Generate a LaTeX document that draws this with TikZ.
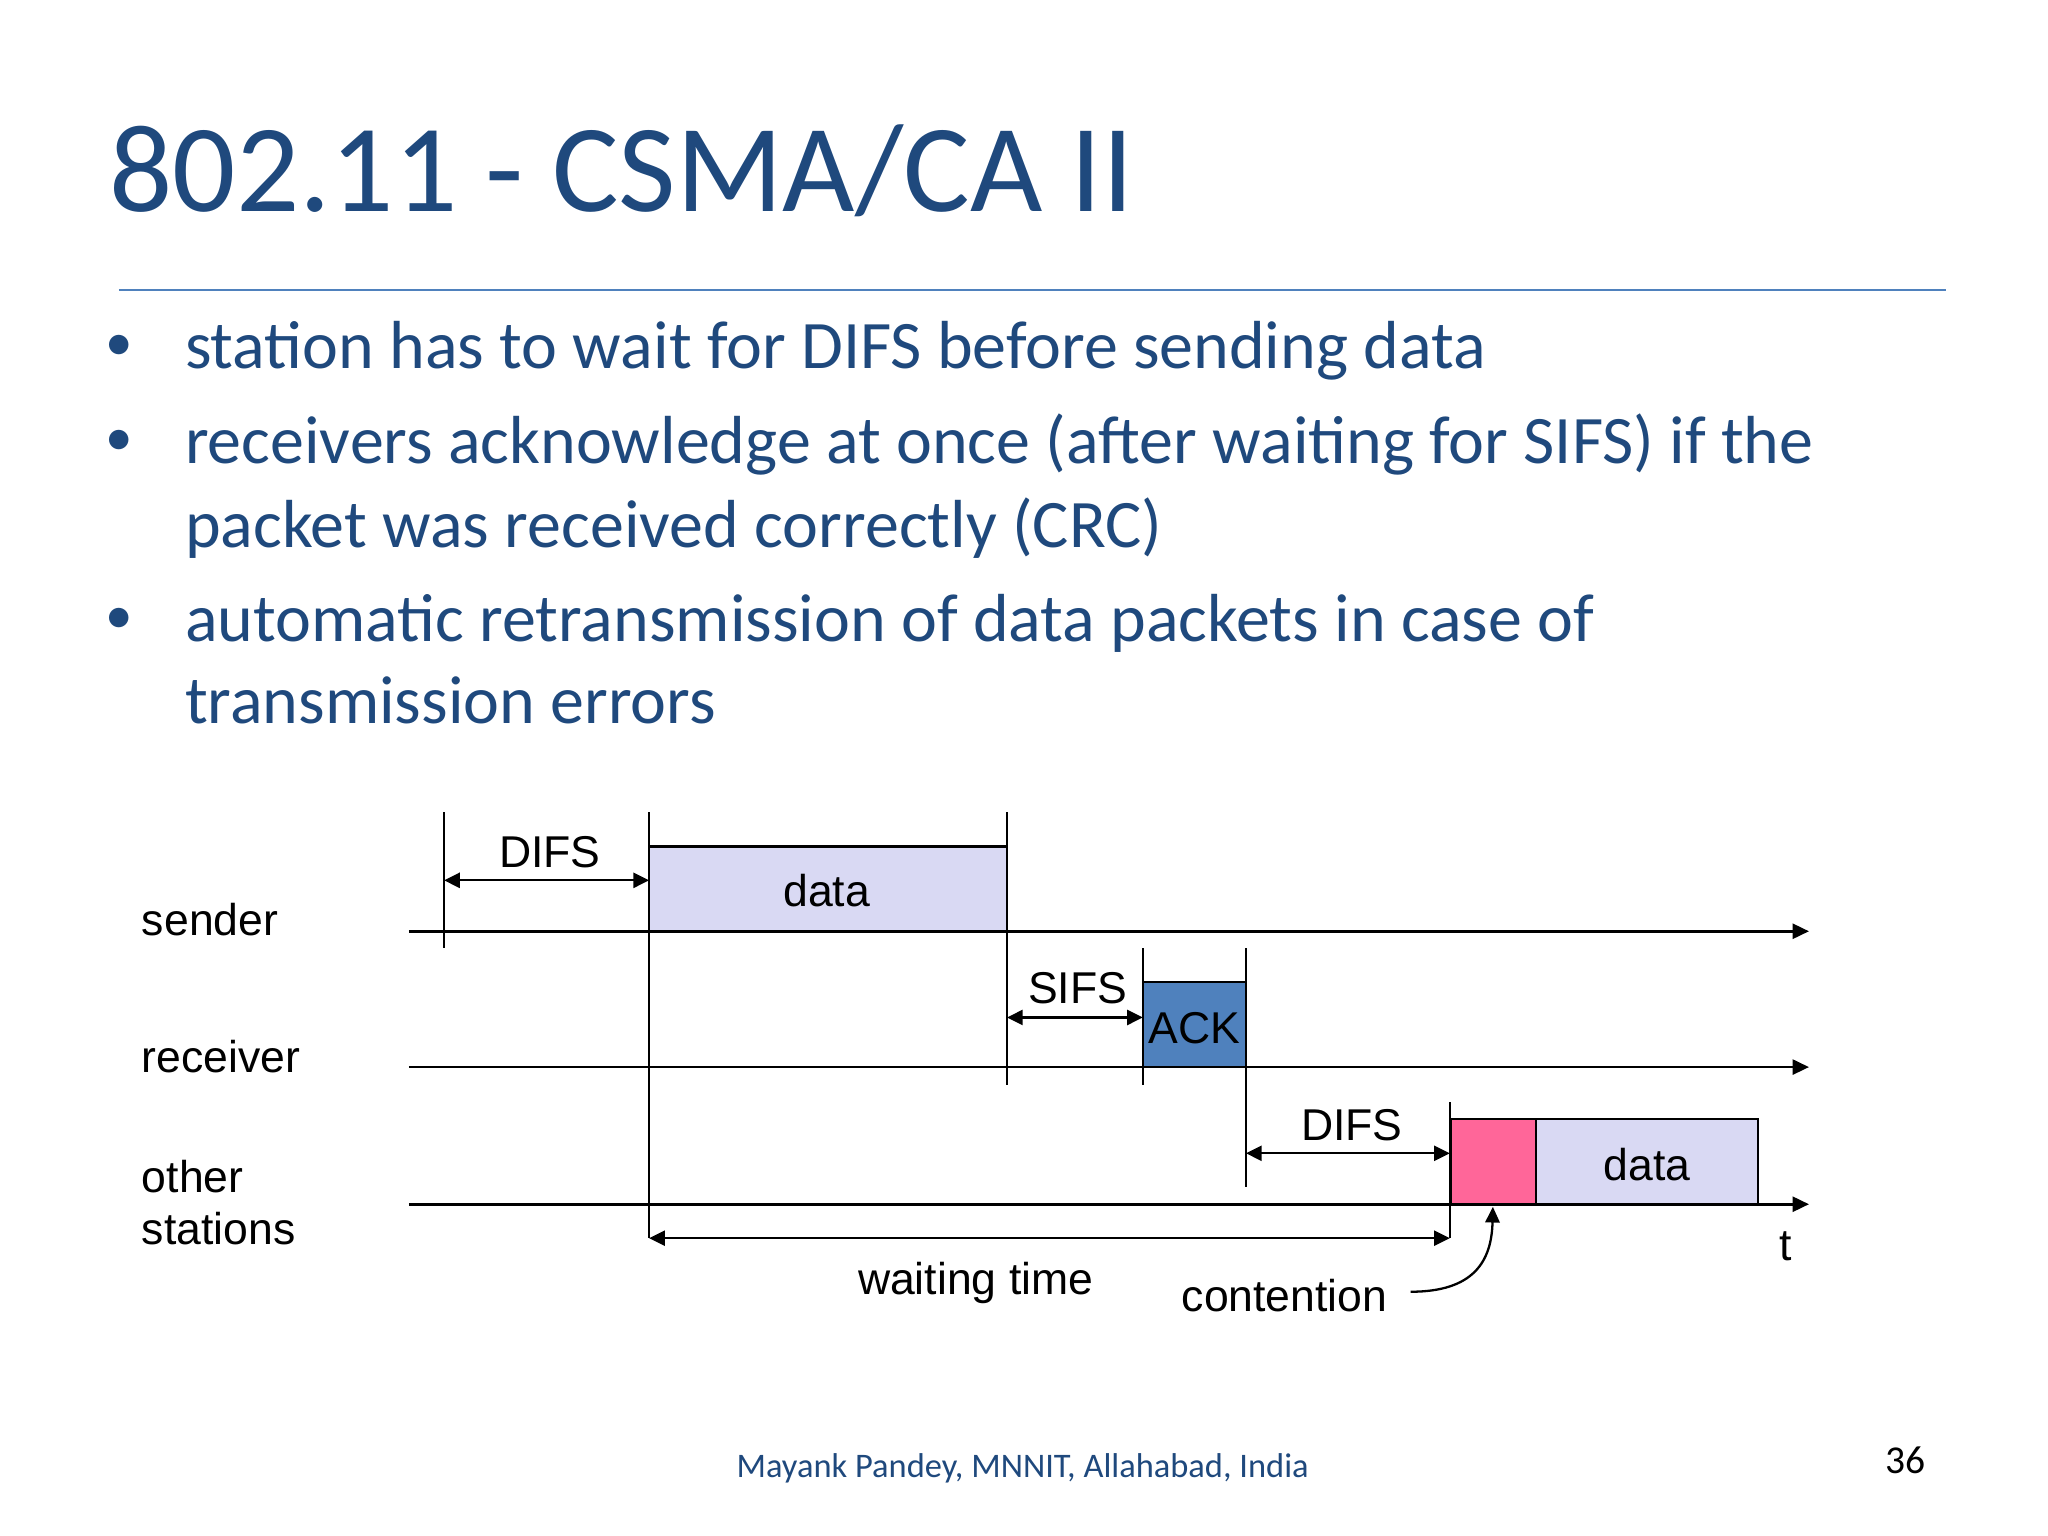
\documentclass[tikz,border=0pt]{standalone}
\usepackage{fontspec}
\setmainfont{Carlito}
\newfontfamily\diagfont{Liberation Sans}
\usetikzlibrary{arrows.meta}

\definecolor{slideblue}{RGB}{31,73,125}
\definecolor{ruleblue}{RGB}{79,129,189}
\definecolor{datafill}{RGB}{217,217,243}
\definecolor{ackfill}{RGB}{79,129,189}
\definecolor{contfill}{RGB}{255,102,153}

\tikzset{
  slidetitle/.style={anchor=base west, inner sep=0pt, text=slideblue, font=\fontsize{27.2}{33}\selectfont},
  point/.style={anchor=base west, inner sep=0pt, text=slideblue, font=\fontsize{14.8}{18}\selectfont},
  bulletdot/.style={anchor=base, inner sep=0pt, text=slideblue, font=\fontsize{12}{14}\selectfont},
  rowlabel/.style={anchor=base west, inner sep=0pt, font=\diagfont\fontsize{9.7}{11.6}\selectfont},
  lbl/.style={anchor=base, inner sep=0pt, font=\diagfont\fontsize{9.7}{11.6}\selectfont},
  axis/.style={line width=0.55pt, -{Triangle[length=1.25mm,width=1.15mm]}},
  slotline/.style={line width=0.45pt},
  span/.style={line width=0.5pt, {Triangle[length=1.2mm,width=1.15mm]}-{Triangle[length=1.2mm,width=1.15mm]}},
  pointer/.style={line width=0.5pt, -{Triangle[length=1.2mm,width=1.1mm]}},
  dataframe/.style={draw, line width=0.5pt, fill=datafill},
  ackframe/.style={draw, line width=0.5pt, fill=ackfill},
  contframe/.style={draw, line width=0.5pt, fill=contfill},
}

\begin{document}
\begin{tikzpicture}[x=0.01cm, y=-0.01cm]
  \useasboundingbox (0,0) rectangle (1568,1176);

  % title
  \node[slidetitle] (title) at (83,162) {802.11 - CSMA/CA II};
  \draw[ruleblue, line width=0.6pt] (91,222) -- (1490,222);

  % bullet points
  \node[bulletdot] (dot1) at (91,276) {•};
  \node[point] (p1) at (141,282) {station has to wait for DIFS before sending data};
  \node[bulletdot] (dot2) at (91,349) {•};
  \node[point] (p2) at (141,355) {receivers acknowledge at once (after waiting for SIFS) if the};
  \node[point] (p2b) at (141,419) {packet was received correctly (CRC)};
  \node[bulletdot] (dot3) at (91,485) {•};
  \node[point] (p3) at (141,491) {automatic retransmission of data packets in case of};
  \node[point] (p3b) at (141,554) {transmission errors};

  % stations
  \node[rowlabel] (sender) at (108,716) {sender};
  \node[rowlabel] (receiver) at (108,821) {receiver};
  \node[rowlabel] (other) at (108,913) {other};
  \node[rowlabel] (stations) at (108,953) {stations};

  % frames
  \draw[dataframe] (497,648) rectangle (771,713);
  \draw[ackframe] (875,752) rectangle (954,817);
  \draw[contframe] (1111,857) rectangle (1176,922);
  \draw[dataframe] (1176,857) rectangle (1346,922);

  % time axes
  \coordinate (sndA) at (313,713);
  \coordinate (sndB) at (1385,713);
  \coordinate (rcvA) at (313,817);
  \coordinate (rcvB) at (1385,817);
  \coordinate (othA) at (313,922);
  \coordinate (othB) at (1385,922);
  \draw[axis] (sndA) -- (sndB);
  \draw[axis] (rcvA) -- (rcvB);
  \draw[axis] (othA) -- (othB);

  % slot borders
  \draw[slotline] (340,622) -- (340,726);
  \draw[slotline] (497,622) -- (497,948);
  \draw[slotline] (771,622) -- (771,831);
  \draw[slotline] (875,726) -- (875,831);
  \draw[slotline] (954,726) -- (954,909);
  \draw[slotline] (1110,844) -- (1110,948);

  % intervals
  \coordinate (difsA) at (340,674);
  \coordinate (difsB) at (497,674);
  \coordinate (sifsA) at (771,779);
  \coordinate (sifsB) at (875,779);
  \coordinate (difs2A) at (954,883);
  \coordinate (difs2B) at (1110,883);
  \coordinate (waitA) at (497,948);
  \coordinate (waitB) at (1110,948);
  \draw[span] (difsA) -- (difsB);
  \draw[span] (sifsA) -- (sifsB);
  \draw[span] (difs2A) -- (difs2B);
  \draw[span] (waitA) -- (waitB);

  % labels
  \node[lbl] (difs) at (421,664) {DIFS};
  \node[lbl] (data) at (633,694) {data};
  \node[lbl] (sifs) at (825,768) {SIFS};
  \node[lbl] (ack) at (914.5,799) {ACK};
  \node[lbl] (difs2) at (1035,873) {DIFS};
  \node[lbl] (data2) at (1261,903.5) {data};
  \node[lbl] (wait) at (747,991) {waiting time};
  \node[lbl] (contention) at (983.5,1004) {contention};
  \node[lbl] (t) at (1367,965) {t};

  % contention pointer
  \coordinate (contA) at (1080,989);
  \coordinate (contB) at (1143,924);
  \draw[pointer] (contA) .. controls (1128,989) and (1142,966) .. (contB);

  % footer
  \node[anchor=base, inner sep=0pt, text=slideblue, font=\fontsize{7.5}{9}\selectfont] (credit) at (783,1131) {Mayank Pandey, MNNIT, Allahabad, India};
  \node[anchor=base, inner sep=0pt, font=\fontsize{8.6}{10}\selectfont] (page) at (1459,1128) {36};
\end{tikzpicture}
\end{document}
